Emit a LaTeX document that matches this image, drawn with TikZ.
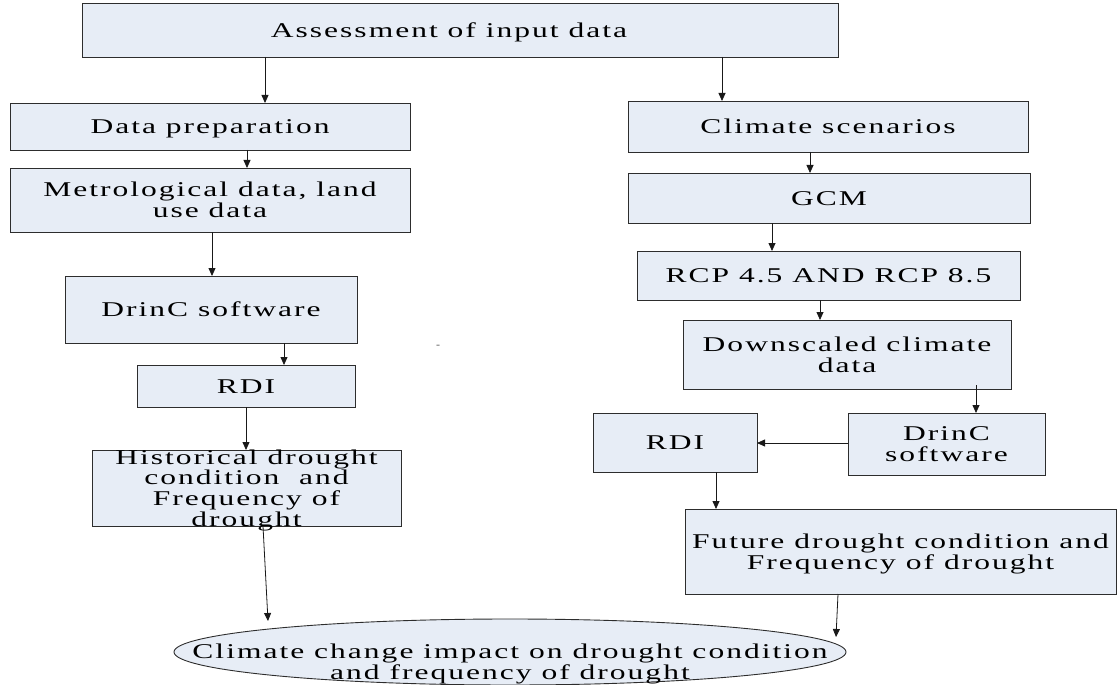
\documentclass[tikz,border=0pt]{standalone}
\usepackage{fontspec}
\usepackage{graphicx}
\setmainfont{Liberation Serif}[LetterSpace=6.4]
\usetikzlibrary{arrows.meta,shapes.geometric}
\definecolor{boxfill}{RGB}{231,237,246}
\definecolor{boxline}{RGB}{45,45,45}
\newcommand\stxt[1]{\scalebox{1.5}[1]{\begin{tabular}{@{}c@{}}#1\end{tabular}}}
\newcommand\mybox[6]{%
  \node[box,minimum width={(#4-#2)*1bp},minimum height={(#5-#3)*1bp}] (#1) at ({(#2+#4)/2},{(#3+#5)/2}) {};
  \node[lbl] (#1t) at (#1.center) {\stxt{#6}};}
\begin{document}
\begin{tikzpicture}[x=1bp,y=-1bp,
  box/.style={draw=boxline,fill=boxfill,line width=0.9bp,inner sep=0pt,outer sep=0pt},
  lbl/.style={font=\fontsize{21bp}{20.5bp}\selectfont,inner sep=0pt,text=black,yshift=-3bp},
  arr/.style={draw=black!90,line width=0.8bp,-{Triangle[length=8bp,width=7bp]}}]
\useasboundingbox (0,0) rectangle (1117,685);

\node[box,minimum width=756bp,minimum height=54bp] (assess) at (460,30) {};
\node[lbl] (assesst) at (449,30) {\stxt{Assessment of input data}};
\mybox{prep}{10}{103}{410}{150}{Data preparation}
\mybox{met}{10}{168}{410}{232}{Metrological data, land\\use data}
\mybox{drl}{65}{276}{357}{343}{DrinC software}
\mybox{rdil}{137}{365}{355}{407}{RDI}
\mybox{hist}{92}{450}{401}{526}{Historical drought\\condition~ and\\Frequency of\\drought}
\mybox{clim}{628}{101}{1028}{152}{Climate scenarios}
\mybox{gcm}{628}{173}{1030}{223}{GCM}
\mybox{rcp}{637}{251}{1020}{300}{RCP 4.5 AND RCP 8.5}
\mybox{down}{683}{320}{1011}{389}{Downscaled climate\\data}
\mybox{drr}{848}{413}{1045}{475}{DrinC\\software}
\mybox{rdir}{593}{413}{757}{472}{RDI}
\mybox{fut}{685}{509}{1116}{594}{Future drought condition and\\Frequency of drought}

\node[ellipse,draw=boxline,fill=boxfill,line width=0.9bp,inner sep=0pt,minimum width=672bp,minimum height=66bp] (ell) at (510,652) {};
\node[lbl] (ellt) at (510,662) {\stxt{Climate change impact on drought condition\\and frequency of drought}};

\node[font=\fontsize{12bp}{12bp}\selectfont,text=black!60] (dash) at (438,347) {-};

\coordinate (x265) at (265,0);
\coordinate (x722) at (722,0);
\coordinate (x247) at (247,0);
\coordinate (x212) at (212,0);
\coordinate (x284) at (284,0);
\coordinate (x246) at (246,0);
\coordinate (x263) at (263,0);
\coordinate (x810) at (810,0);
\coordinate (x772) at (772,0);
\coordinate (x820) at (820,0);
\coordinate (x976) at (976,0);
\coordinate (x716) at (716,0);
\coordinate (x838) at (838,0);
\coordinate (y443) at (0,443);
\coordinate (e1) at (268,621);
\coordinate (e2) at (836,637);
\coordinate (d1) at (976,385);

\draw[arr] (assess.south -| x265) -- (prep.north -| x265);
\draw[arr] (assess.south -| x722) -- (clim.north -| x722);
\draw[arr] (prep.south -| x247) -- (met.north -| x247);
\draw[arr] (met.south -| x212) -- (drl.north -| x212);
\draw[arr] (drl.south -| x284) -- (rdil.north -| x284);
\draw[arr] (rdil.south -| x246) -- (hist.north -| x246);
\draw[arr] (hist.south -| x263) -- (e1);
\draw[arr] (clim.south -| x810) -- (gcm.north -| x810);
\draw[arr] (gcm.south -| x772) -- (rcp.north -| x772);
\draw[arr] (rcp.south -| x820) -- (down.north -| x820);
\draw[arr] (d1) -- (drr.north -| x976);
\draw[arr] (drr.west |- y443) -- (rdir.east |- y443);
\draw[arr] (rdir.south -| x716) -- (fut.north -| x716);
\draw[arr] (fut.south -| x838) -- (e2);
\end{tikzpicture}
\end{document}
